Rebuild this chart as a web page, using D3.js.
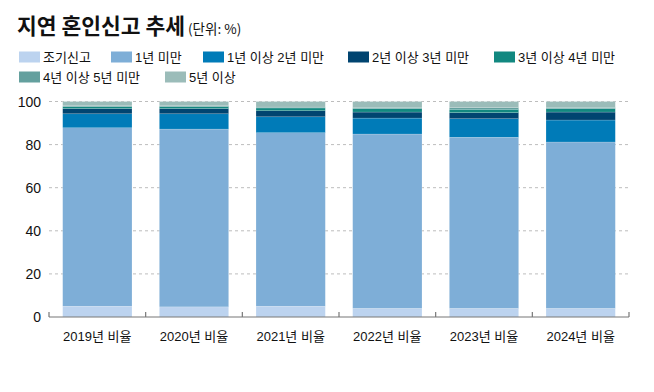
<!DOCTYPE html>
<html><head><meta charset="utf-8">
<script src="https://cdn.jsdelivr.net/npm/d3@7"></script>
<style>
body{margin:0;background:#fff;}
svg{display:block;}
text{font-family:"Liberation Sans","Noto Sans CJK KR",sans-serif;fill:#111;}
</style></head>
<body>
<svg id="c" width="654" height="392"></svg>
<script>
const categories = ["2019년 비율","2020년 비율","2021년 비율","2022년 비율","2023년 비율","2024년 비율"];
const seriesNames = ["조기신고","1년 미만","1년 이상 2년 미만","2년 이상 3년 미만","3년 이상 4년 미만","4년 이상 5년 미만","5년 이상"];
const colors = ["#bcd3ef","#7eaed7","#007bb8","#004470","#128880","#64a09e","#9bbcb9"];
const early   = [5.0, 4.7, 5.0, 4.0, 4.0, 4.0];
const lt1     = [82.8, 82.5, 80.5, 80.9, 79.4, 77.2];
const y1to2   = [6.5, 7.1, 7.4, 7.4, 8.6, 10.2];
const y2to3   = [2.4, 2.4, 2.8, 2.8, 2.8, 3.7];
const y3to4   = [0.9, 0.9, 1.3, 1.6, 1.6, 1.6];
const y4to5   = [0.4, 0.4, 0.4, 0.6, 0.7, 0.6];
const y5plus  = [2.0, 2.0, 2.6, 2.7, 2.9, 2.7];
const yTicks = [0, 20, 40, 60, 80, 100];

const seriesValues = [early, lt1, y1to2, y2to3, y3to4, y4to5, y5plus];
const rows = categories.map((c, i) => {
  const r = {cat: c};
  seriesNames.forEach((s, j) => r[s] = seriesValues[j][i]);
  return r;
});

const svg = d3.select("#c");
const x = d3.scaleBand().domain(categories).range([49, 629]).paddingInner(0.283).paddingOuter(0.1415);
const y = d3.scaleLinear().domain([0, 100]).range([317, 101.5]);

// title
const t = svg.append("text").attr("x", 17).attr("y", 34);
t.append("tspan").text("지연 혼인신고 추세").attr("font-size", 21.5).attr("font-weight", 700)
  .style("font-family", '"Noto Sans CJK KR",sans-serif');
t.append("tspan").text(" (단위: %)").attr("font-size", 13.5).attr("dx", 0)
  .style("font-family", '"Noto Sans CJK KR",sans-serif');

// legend
const legendPos = [[19,57],[111,57],[203,57],[348,57],[494,57],[19,77],[165,77]];
const lg = svg.append("g");
seriesNames.forEach((s, i) => {
  const [lx, ly] = legendPos[i];
  lg.append("rect").attr("x", lx).attr("y", ly - 5.5).attr("width", 21).attr("height", 11).attr("fill", colors[i]);
  lg.append("text").attr("x", lx + 24).attr("y", ly).attr("dy", "0.36em").attr("font-size", 13).text(s);
});

// gridlines
svg.append("g").selectAll("line").data(yTicks.filter(d => d > 0)).join("line")
  .attr("x1", 49).attr("x2", 629).attr("y1", d => y(d)).attr("y2", d => y(d))
  .attr("stroke", "#bdbdbd").attr("stroke-dasharray", "3,3").attr("stroke-width", 1);

// y labels
svg.append("g").selectAll("text").data(yTicks).join("text")
  .attr("x", 41).attr("y", d => y(d)).attr("dy", "0.36em").attr("text-anchor", "end")
  .attr("font-size", 14).text(d => d);

// bars
const stack = d3.stack().keys(seriesNames)(rows);
svg.append("g").selectAll("g").data(stack).join("g")
  .attr("fill", (d, i) => colors[i])
  .selectAll("rect").data(d => d).join("rect")
  .attr("x", d => x(d.data.cat)).attr("width", x.bandwidth())
  .attr("y", d => y(d[1])).attr("height", d => y(d[0]) - y(d[1]))
  .attr("stroke", "rgba(255,255,255,0.35)").attr("stroke-width", 0.5);

// x axis
const xa = svg.append("g");
xa.append("line").attr("x1", 49).attr("x2", 629).attr("y1", 317).attr("y2", 317).attr("stroke", "#777").attr("stroke-width", 1.2);
const bounds = d3.range(categories.length + 1).map(i => 49 + i * x.step());
xa.selectAll("line.tk").data(bounds).join("line").attr("class", "tk")
  .attr("x1", d => d).attr("x2", d => d).attr("y1", 312).attr("y2", 317).attr("stroke", "#777").attr("stroke-width", 1.2);
xa.selectAll("text").data(categories).join("text")
  .attr("x", d => x(d) + x.bandwidth() / 2).attr("y", 336).attr("dy", "0.36em")
  .attr("text-anchor", "middle").attr("font-size", 13).text(d => d);
</script>
</body></html>
